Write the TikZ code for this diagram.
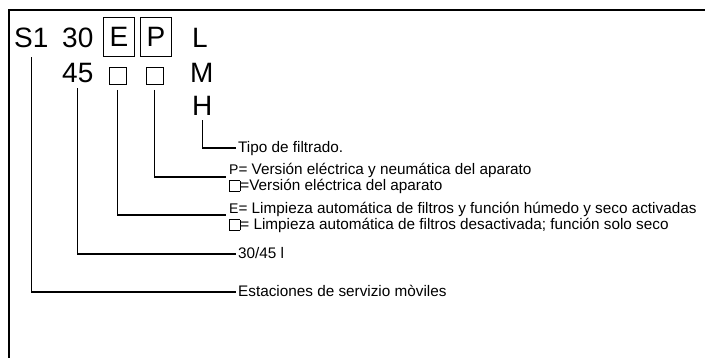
\documentclass[tikz,border=0pt]{standalone}
\usepackage{fontspec}
\setmainfont{Liberation Sans}
\newcommand\sqbox{{\fboxsep=0pt\fboxrule=0.6pt\fbox{\rule{0pt}{10pt}\rule{10pt}{0pt}}}}
\begin{document}
\begin{tikzpicture}[x=1pt,y=-1pt,
  big/.style={font=\fontsize{28}{30}\selectfont, inner sep=0pt, anchor=base west},
  lbl/.style={font=\fontsize{15.3}{16.5}\selectfont, inner sep=0pt, anchor=base west},
  conn/.style={line width=1.2pt},
  framebox/.style={draw, line width=1.1pt, minimum width=31pt, minimum height=39pt, inner sep=0pt, font=\fontsize{28}{30}\selectfont},
  smallsq/.style={draw, line width=0.9pt, minimum size=17pt, inner sep=0pt}]
\useasboundingbox (0,0) rectangle (705,358);
\draw[line width=1.2pt] (9,358) -- (9,10) -- (705,10);
% top row
\node[big] (S1) at (14,48) {S1};
\node[big] (n30) at (62,48) {30};
\node[framebox] (E) at (119,37) {E};
\node[framebox] (P) at (156,37) {P};
\node[big] (L) at (192,48) {L};
% second row
\node[big] (n45) at (62,83) {45};
\node[smallsq] (sqE) at (117.5,76) {};
\node[smallsq] (sqP) at (154.5,76) {};
\node[big] (M) at (190,83) {M};
\node[big] (H) at (192,116) {H};
% labels
\node[lbl] (tipo) at (238,153) {Tipo de filtrado.};
\node[lbl] (pl1) at (229,175) {{\fontsize{14}{15}\selectfont P}= Versión eléctrica y neumática del aparato};
\node[lbl] (pl2) at (229,191) {\sqbox=Versión eléctrica del aparato};
\node[lbl] (el1) at (229,214) {{\fontsize{14}{15}\selectfont E}= Limpieza automática de filtros y función húmedo y seco activadas};
\node[lbl] (el2) at (229,230) {\sqbox= Limpieza automática de filtros desactivada; función solo seco};
\node[lbl] (vol) at (238,259) {30/45 l};
\node[lbl] (est) at (238,297) {Estaciones de servizio mòviles};
% connector ends
\coordinate (tipoEnd) at (236,148);
\coordinate (pEnd) at (226,177);
\coordinate (eEnd) at (226,215);
\coordinate (volEnd) at (236,254);
\coordinate (estEnd) at (236,292);
% connectors
\draw[conn] ([yshift=-4pt]H.south) |- (tipoEnd);
\draw[conn] ([yshift=-5pt]sqP.south) |- (pEnd);
\draw[conn] ([yshift=-5pt]sqE.south) |- (eEnd);
\draw[conn] ([yshift=-5pt]n45.south) |- (volEnd);
\draw[conn] ([yshift=-9pt]S1.south) |- (estEnd);
\end{tikzpicture}
\end{document}
